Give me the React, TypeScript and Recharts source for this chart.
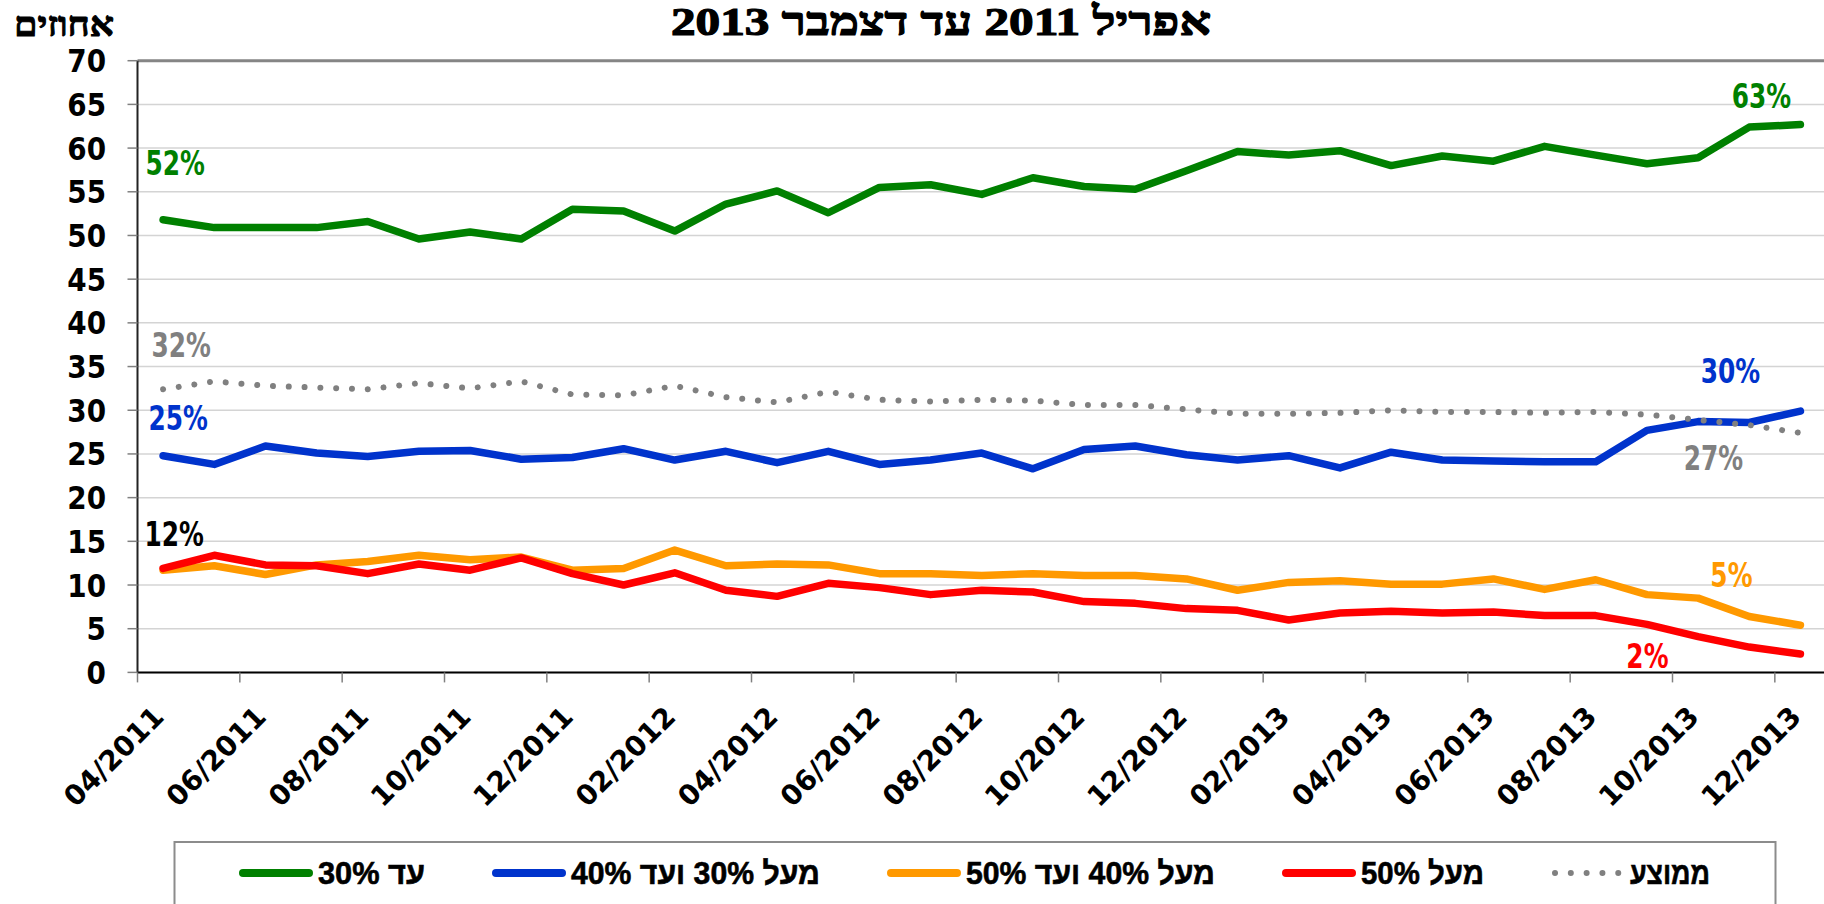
import React from 'react';
import { CartesianGrid, LabelList, Line, LineChart, ReferenceLine, XAxis, YAxis } from 'recharts';

// monthly survey, 04/2011 - 12/2013
const months = [
  '04/2011', '05/2011', '06/2011', '07/2011', '08/2011', '09/2011', '10/2011', '11/2011', '12/2011',
  '01/2012', '02/2012', '03/2012', '04/2012', '05/2012', '06/2012', '07/2012', '08/2012', '09/2012',
  '10/2012', '11/2012', '12/2012', '01/2013', '02/2013', '03/2013', '04/2013', '05/2013', '06/2013',
  '07/2013', '08/2013', '09/2013', '10/2013', '11/2013', '12/2013'
];

const tickLabels = [
  '04/2011', '06/2011', '08/2011', '10/2011', '12/2011', '02/2012', '04/2012', '06/2012', '08/2012',
  '10/2012', '12/2012', '02/2013', '04/2013', '06/2013', '08/2013', '10/2013', '12/2013'
];

const yTicks = [0, 5, 10, 15, 20, 25, 30, 35, 40, 45, 50, 55, 60, 65, 70];

const upTo30 = [
  51.8, 50.9, 50.9, 50.9, 51.6, 49.6, 50.4, 49.6, 53.0, 52.8, 50.5, 53.6, 55.1, 52.6, 55.5, 55.8, 54.7,
  56.6, 55.6, 55.3, 57.4, 59.6, 59.2, 59.7, 58.0, 59.1, 58.5, 60.2, 59.2, 58.2, 58.9, 62.4, 62.7
];

const from30to40 = [
  24.8, 23.8, 25.9, 25.1, 24.7, 25.3, 25.4, 24.4, 24.6, 25.6, 24.3, 25.3, 24.0, 25.3, 23.8, 24.3, 25.1,
  23.3, 25.5, 25.9, 24.9, 24.3, 24.8, 23.4, 25.2, 24.3, 24.2, 24.1, 24.1, 27.7, 28.7, 28.6, 29.9
];

const from40to50 = [
  11.7, 12.2, 11.2, 12.3, 12.7, 13.4, 12.9, 13.2, 11.7, 11.9, 14.0, 12.2, 12.4, 12.3, 11.3, 11.3, 11.1,
  11.3, 11.1, 11.1, 10.7, 9.4, 10.3, 10.5, 10.1, 10.1, 10.7, 9.5, 10.6, 8.9, 8.5, 6.4, 5.4
];

const above50 = [
  11.9, 13.4, 12.3, 12.2, 11.3, 12.4, 11.7, 13.1, 11.3, 10.0, 11.4, 9.4, 8.7, 10.2, 9.7, 8.9, 9.4,
  9.2, 8.1, 7.9, 7.3, 7.1, 6.0, 6.8, 7.0, 6.8, 6.9, 6.5, 6.5, 5.5, 4.1, 2.9, 2.1
];

const average = [
  32.4, 33.3, 32.8, 32.6, 32.4, 33.1, 32.5, 33.3, 31.8, 31.7, 32.8, 31.5, 30.9, 32.1, 31.2, 31.0, 31.2,
  31.1, 30.6, 30.6, 30.1, 29.6, 29.6, 29.7, 30.0, 29.8, 29.8, 29.7, 29.8, 29.5, 28.9, 28.3, 27.4
];

const data = months.map((m, i) => ({
  i,
  month: m,
  upTo30: upTo30[i],
  from30to40: from30to40[i],
  from40to50: from40to50[i],
  above50: above50[i],
  average: average[i]
}));

const tickPositions = tickLabels.map((_, k) => k * 2 - 0.5);

type EndLabel = { dx: number; dy: number; color: string };

const series: {
  key: string;
  name: string;
  color: string;
  dotted?: boolean;
  first?: EndLabel;
  last?: EndLabel;
}[] = [
  { key: 'upTo30', name: 'עד 30%', color: '#008000',
    first: { dx: 12, dy: -45, color: '#008000' }, last: { dx: -39, dy: -16, color: '#008000' } },
  { key: 'from30to40', name: 'מעל 30% ועד 40%', color: '#0033cc',
    first: { dx: 15, dy: -26, color: '#0033cc' }, last: { dx: -70, dy: -28, color: '#0033cc' } },
  { key: 'from40to50', name: 'מעל 40% ועד 50%', color: '#ff9900',
    last: { dx: -69, dy: -38, color: '#ff9900' } },
  { key: 'above50', name: 'מעל 50%', color: '#ff0000',
    first: { dx: 11, dy: -22, color: '#000000' }, last: { dx: -153, dy: 14, color: '#ff0000' } },
  { key: 'average', name: 'ממוצע', color: '#808080', dotted: true,
    first: { dx: 18, dy: -32, color: '#808080' }, last: { dx: -87, dy: 37, color: '#808080' } }
];

// legend text widths as they appear in the original
const legendTextWidth = [107, 249, 249, 123, 80];

const FONT = '"DejaVu Sans", Verdana, sans-serif';
const HEB_SERIF = '"Liberation Serif", "DejaVu Serif", serif';

const YTick = ({ x, y, payload }: any) => (
  <g transform={`translate(${x},${y}) scale(0.87,1)`}>
    <text x={0} y={0} dy="0.36em" textAnchor="end" fontFamily={FONT} fontWeight="bold" fontSize={32} fill="#000">
      {payload.value}
    </text>
  </g>
);

const XTick = ({ x, y, payload }: any) => {
  const label = tickLabels[Math.round((payload.value + 0.5) / 2)];
  return (
    <g transform={`translate(${x + 28},${y + 36})`}>
      <text transform="rotate(-45)" textAnchor="end" fontFamily={FONT} fontWeight="bold" fontSize={28} fill="#000">
        {label}
      </text>
    </g>
  );
};

const endLabel = (s: (typeof series)[number]) => (props: any) => {
  const { x, y, index, value } = props;
  const spec = index === 0 ? s.first : index === months.length - 1 ? s.last : undefined;
  if (!spec || x == null || y == null) return null;
  return (
    <g transform={`translate(${x + spec.dx},${y + spec.dy}) scale(0.73,1)`}>
      <text x={0} y={0} textAnchor="middle" fontFamily={FONT} fontWeight="bold" fontSize={34} fill={spec.color}>
        {Math.round(value)}%
      </text>
    </g>
  );
};

const Legend = () => {
  let cursor = 239;
  return (
    <g>
      <rect x={174.5} y={842} width={1601} height={90} fill="#fff" stroke="#8c8c8c" strokeWidth={2} />
      {series.map((s, k) => {
        const x0 = cursor;
        const w = legendTextWidth[k];
        cursor += 74 + 5 + w + 67;
        return (
          <g key={s.key}>
            <line
              x1={x0 + 4}
              x2={x0 + 70}
              y1={873}
              y2={873}
              stroke={s.color}
              strokeWidth={s.dotted ? 6 : 8}
              strokeLinecap="round"
              strokeDasharray={s.dotted ? '0.01 15.8' : undefined}
            />
            <text
              x={x0 + 79 + w}
              y={884}
              direction="rtl"
              textAnchor="start"
              textLength={w}
              lengthAdjust="spacingAndGlyphs"
              fontFamily='"Liberation Sans", "DejaVu Sans", sans-serif'
              fontWeight="bold"
              fontSize={32}
              fill="#000"
              stroke="#000"
              strokeWidth={0.6}
            >
              {s.name}
            </text>
          </g>
        );
      })}
    </g>
  );
};

export default function App() {
  return (
    <div style={{ position: 'absolute', left: 0, top: 0, width: 1824, height: 904, overflow: 'hidden', background: '#fff' }}>
      <LineChart
        width={1826}
        height={904}
        data={data}
        margin={{ top: 60.7, right: 0, bottom: 51.6, left: 7.5 }}
      >
        <CartesianGrid vertical={false} stroke="#d4d4d4" strokeWidth={1.5} />
        <XAxis
          type="number"
          dataKey="i"
          domain={[-0.5, 32.5]}
          ticks={tickPositions}
          interval={0}
          height={180}
          tick={<XTick />}
          tickSize={10}
          tickMargin={0}
          axisLine={{ stroke: '#000', strokeWidth: 2 }}
          tickLine={{ stroke: '#808080', strokeWidth: 1.5 }}
        />
        <YAxis
          domain={[0, 70]}
          ticks={yTicks}
          interval={0}
          width={130}
          tick={<YTick />}
          tickSize={10}
          tickMargin={21.5}
          axisLine={{ stroke: '#222', strokeWidth: 2 }}
          tickLine={{ stroke: '#808080', strokeWidth: 1.5 }}
        />
        <ReferenceLine y={70} stroke="#858585" strokeWidth={3} />
        {series.map((s) => (
          <Line
            key={s.key}
            type="linear"
            dataKey={s.key}
            name={s.name}
            stroke={s.color}
            strokeWidth={s.dotted ? 6 : 7.5}
            strokeLinecap="round"
            strokeLinejoin="round"
            strokeDasharray={s.dotted ? '0.01 15.8' : undefined}
            dot={false}
            activeDot={false}
            isAnimationActive={false}
          >
            <LabelList dataKey={s.key} content={endLabel(s)} />
          </Line>
        ))}
      </LineChart>
      <svg
        width={1824}
        height={904}
        style={{ position: 'absolute', left: 0, top: 0, pointerEvents: 'none' }}
      >
        <text
          x={941}
          y={35}
          textAnchor="middle"
          direction="rtl"
          textLength={540}
          lengthAdjust="spacingAndGlyphs"
          fontFamily={HEB_SERIF}
          fontWeight="bold"
          fontSize={40}
          fill="#000"
          stroke="#000"
          strokeWidth={1.2}
        >
          אפריל 2011 עד דצמבר 2013
        </text>
        <text
          x={64}
          y={36}
          textAnchor="middle"
          direction="rtl"
          textLength={100}
          lengthAdjust="spacingAndGlyphs"
          fontFamily={HEB_SERIF}
          fontWeight="bold"
          fontSize={34}
          fill="#000"
          stroke="#000"
          strokeWidth={1}
        >
          אחוזים
        </text>
        <Legend />
      </svg>
    </div>
  );
}
